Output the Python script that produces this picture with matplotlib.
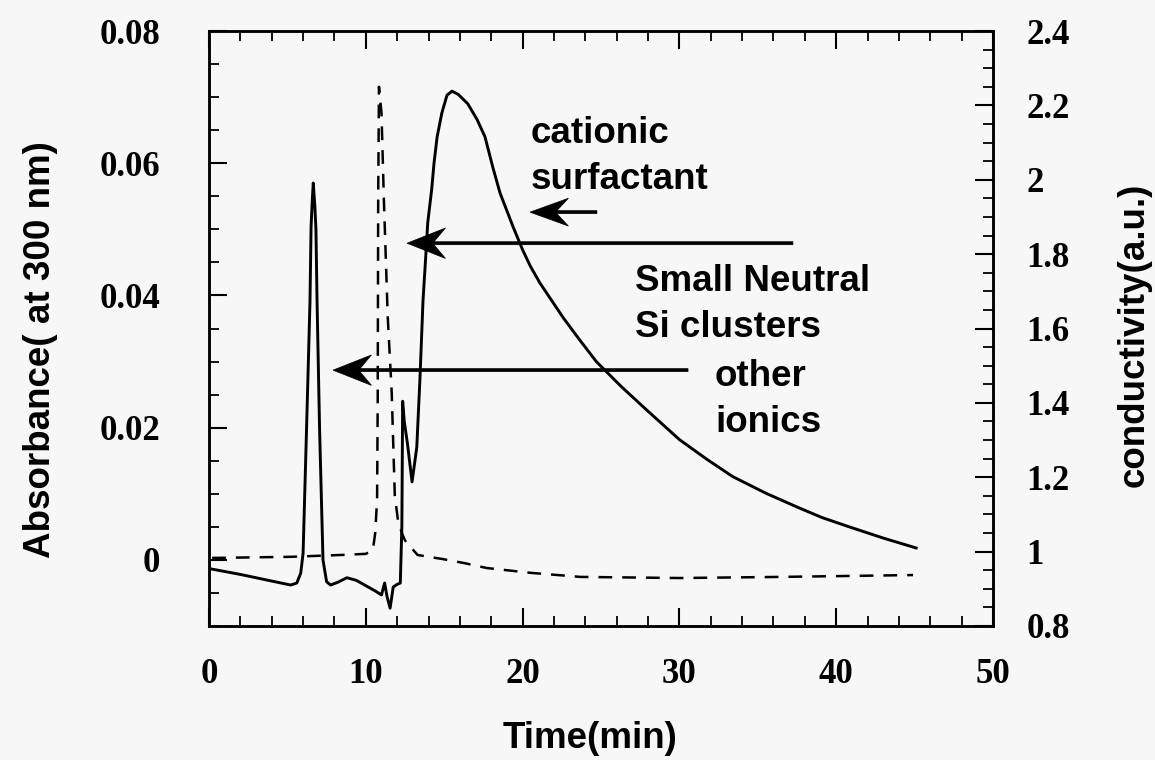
import matplotlib
matplotlib.use("Agg")
import matplotlib.pyplot as plt
from matplotlib.ticker import MultipleLocator

# UV absorbance trace (solid)
time_abs = [0.2, 2.0, 4.0, 5.2, 5.6, 5.85, 6.0, 6.2, 6.44, 6.51, 6.6, 6.65, 6.75,
            6.82, 6.89, 7.05, 7.27, 7.5, 7.75, 8.2, 8.8, 9.4, 10.0, 10.6, 11.0,
            11.2, 11.35, 11.55, 11.75, 12.0, 12.2, 12.3, 12.35, 12.45, 12.65,
            12.95, 13.25, 13.45, 13.65, 13.8, 13.95, 14.2, 14.35, 14.55, 14.85,
            15.18, 15.5, 15.9, 16.5, 17.1, 17.6, 18.1, 18.56, 19.39, 20.0, 20.5,
            21.1, 21.75, 22.6, 23.6, 24.7, 26.3, 27.9, 30.0, 31.7, 33.4, 35.5,
            37.5, 39.1, 40.7, 43.0, 45.1]
absorb = [-0.0014, -0.0022, -0.0032, -0.0038, -0.0035, -0.002, 0.001, 0.018,
          0.039, 0.0504, 0.055, 0.057, 0.0535, 0.050, 0.0393, 0.02, 0.0,
          -0.0033, -0.0038, -0.0034, -0.0027, -0.0031, -0.0039, -0.0047,
          -0.0053, -0.0035, -0.0055, -0.0073, -0.0041, -0.0037, -0.0035, 0.005,
          0.024, 0.021, 0.0177, 0.0118, 0.017, 0.0272, 0.0393, 0.045, 0.051,
          0.056, 0.060, 0.064, 0.0676, 0.0703, 0.0709, 0.0704, 0.069, 0.0666,
          0.064, 0.0594, 0.0555, 0.0504, 0.0469, 0.0444, 0.0419, 0.0396, 0.0366,
          0.0334, 0.0300, 0.0262, 0.0227, 0.0182, 0.0153, 0.0126, 0.0101,
          0.0080, 0.0064, 0.0051, 0.0033, 0.0018]

# conductivity trace (dashed)
time_cond = [0.2, 5.2, 8.4, 10.0, 10.45, 10.6, 10.72, 10.76, 10.79, 10.84, 11.0,
             11.15, 11.4, 11.65, 11.75, 11.85, 12.05, 12.3, 12.5, 13.3, 14.9,
             16.3, 17.7, 20.5, 23.7, 30.0, 36.4, 44.9]
conduct = [0.983, 0.986, 0.991, 0.994, 1.004, 1.05, 1.14, 1.41, 1.95, 2.25,
           2.18, 1.95, 1.63, 1.43, 1.29, 1.15, 1.085, 1.05, 1.03, 0.991, 0.98,
           0.969, 0.956, 0.943, 0.932, 0.929, 0.932, 0.937]

time_ticks = [0, 10, 20, 30, 40, 50]
time_labels = ["0", "10", "20", "30", "40", "50"]
abs_ticks = [0, 0.02, 0.04, 0.06, 0.08]
abs_labels = ["0", "0.02", "0.04", "0.06", "0.08"]
cond_ticks = [0.8, 1.0, 1.2, 1.4, 1.6, 1.8, 2.0, 2.2, 2.4]
cond_labels = ["0.8", "1", "1.2", "1.4", "1.6", "1.8", "2", "2.2", "2.4"]

bg = "#f7f7f7"
sans = "Liberation Sans"
serif = "Liberation Serif"
big = 26.5

fig = plt.figure(figsize=(11.55, 7.6), dpi=100, facecolor=bg)
ax = fig.add_axes([209 / 1155, 1 - 626 / 760, 784 / 1155, 595 / 760])
ax.set_facecolor(bg)

ax.plot(time_abs, absorb, color="black", lw=2.1, solid_joinstyle="round")
ax.set_xlim(0, 50)
ax.set_ylim(-0.01, 0.08)

ax2 = ax.twinx()
ax2.plot(time_cond, conduct, color="black", lw=1.8, dashes=(5.5, 4))
ax2.set_ylim(0.8, 2.4)

ax.set_xticks(time_ticks)
ax.set_xticklabels(time_labels, family=serif, fontweight="bold", fontsize=25)
ax.set_yticks(abs_ticks)
ax.set_yticklabels(abs_labels, family=serif, fontweight="bold", fontsize=25)
ax2.set_yticks(cond_ticks)
ax2.set_yticklabels(cond_labels, family=serif, fontweight="bold", fontsize=25)

ax.xaxis.set_minor_locator(MultipleLocator(2))
ax.yaxis.set_minor_locator(MultipleLocator(0.005))
ax2.yaxis.set_minor_locator(MultipleLocator(0.05))

ax.tick_params(axis="x", which="both", direction="in", top=True, pad=23)
ax.tick_params(axis="y", which="both", direction="in", right=False, pad=35)
ax2.tick_params(axis="y", which="both", direction="in", pad=24)
for a in (ax, ax2):
    a.tick_params(which="major", length=13, width=1.5)
    a.tick_params(which="minor", length=7, width=1.3)
    for s in a.spines.values():
        s.set_linewidth(1.8)

ax.set_xlabel("Time(min)", family=sans, fontweight="bold", fontsize=big)
ax.xaxis.set_label_coords(0.486, -0.16)
ax.set_ylabel("Absorbance( at 300 nm)", family=sans, fontweight="bold", fontsize=big)
ax.yaxis.set_label_coords(-0.193, 0.464)
ax2.set_ylabel("conductivity(a.u.)", family=sans, fontweight="bold", fontsize=big)
ax2.yaxis.set_label_coords(1.158, 0.489)

# peak assignments
txt = dict(family=sans, fontweight="bold", fontsize=big, va="top", ha="left",
           linespacing=1.41)
ax.text(20.54, 0.0672, "cationic\nsurfactant", **txt)
ax.text(27.17, 0.0447, "Small Neutral\nSi clusters", **txt)
ax.text(32.27, 0.0304, "other\nionics", **txt)

# barbed arrows pointing back at the peaks (tail x, tip x, y)
arrows = [(24.74, 20.47, 0.0526, 0.0042),
          (37.24, 12.63, 0.0479, 0.0046),
          (30.55, 7.91, 0.0287, 0.0046)]
for x0, x1, y, hw in arrows:
    ax.arrow(x0, y, x1 - x0, 0, width=0.00045, head_width=hw, head_length=2.45,
             overhang=0.3, length_includes_head=True, fc="black", ec="black",
             lw=0.5)

fig.savefig("out.png", dpi=100, facecolor=bg)
